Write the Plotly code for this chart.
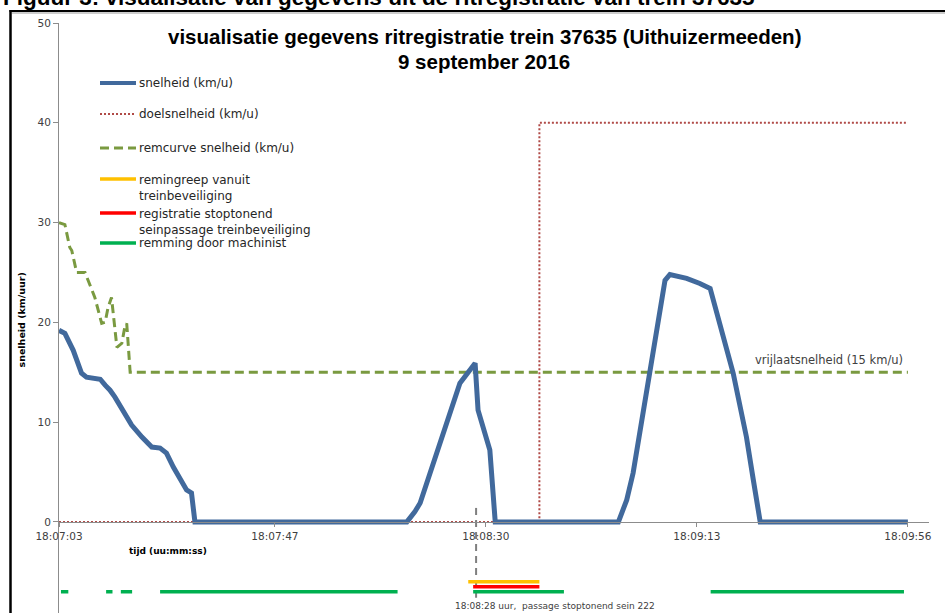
import plotly.graph_objects as go

# ---------------- data (time in seconds after 18:07:03) ----------------
t_speed = [0, 1.2, 2.9, 4.6, 5.6, 8.4, 9.4, 10.4, 11.4, 13.1, 14.8, 16.9, 18.9, 20.6, 21.9,
           23.3, 24.7, 26.0, 27.0, 27.7, 70.9, 72.5, 73.6, 76.3, 78.7, 81.7, 84.8, 85.4,
           87.8, 88.9, 114.0, 115.7, 117.0, 120.5, 122.8, 123.5, 124.5, 127.9, 130.6,
           132.7, 137.4, 140.1, 141.5, 142.9, 173.0]
v_speed = [19.2, 18.9, 17.2, 14.9, 14.5, 14.3, 13.7, 13.2, 12.5, 11.0, 9.7, 8.5, 7.5, 7.4, 6.9,
           5.5, 4.2, 3.2, 2.9, 0, 0, 1.0, 1.9, 5.9, 9.2, 13.9, 15.9, 11.2,
           7.2, 0, 0, 2.2, 4.9, 14.9, 22.2, 24.2, 24.8, 24.4, 23.9,
           23.4, 14.9, 8.5, 4.2, 0, 0]

t_target = [0, 97.9, 97.9, 173.0]
v_target = [0, 0, 40, 40]

t_brakecurve = [0, 1.2, 2.2, 2.6, 3.6, 5.3, 7.3, 8.7, 9.4, 10.0, 10.7, 11.8, 12.8, 13.4,
                13.8, 14.5, 173.0]
v_brakecurve = [30, 29.8, 27.5, 27.2, 25.0, 25.0, 22.5, 19.9, 20.0, 21.5, 22.5, 17.5, 17.9,
                19.5, 19.9, 15.0, 15.0]

# event bars (start, end) in seconds
atb_brake = [(83.4, 97.9)]
stop_signal = [(84.4, 97.9)]
driver_brake = [(0.4, 1.9), (9.6, 10.9), (12.6, 14.9), (20.6, 69.0), (84.4, 102.9),
                (132.8, 172.2)]
atb_level, stop_level, driver_level = -6.0, -6.5, -7.0

passage_time = 85.0  # 18:08:28

tick_s = [0, 44, 87, 130, 173]
tick_labels = ["18:07:03", "18:07:47", "18:08:30", "18:09:13", "18:09:56"]
y_ticks = [0, 10, 20, 30, 40, 50]

# ---------------- colours ----------------
C_BLUE = "#41699C"
C_TARGET = "#B04A47"
C_OLIVE = "#7A9A40"
C_ORANGE = "#FFC000"
C_RED = "#FF0000"
C_GREEN = "#00B050"
C_TEXT = "#404040"
C_AXIS = "#8C8C8C"


def seg_xy(segs, level):
    xs, ys = [], []
    for a, b in segs:
        xs += [a, b, None]
        ys += [level, level, None]
    return xs, ys


fig = go.Figure()
fig.add_trace(go.Scatter(x=t_target, y=v_target, mode="lines",
                         line=dict(color=C_TARGET, width=2, dash="2px,2px"),
                         name="doelsnelheid (km/u)"))
fig.add_trace(go.Scatter(x=t_brakecurve, y=v_brakecurve, mode="lines",
                         line=dict(color=C_OLIVE, width=3, dash="9px,5px"),
                         name="remcurve snelheid (km/u)"))
fig.add_trace(go.Scatter(x=t_speed, y=v_speed, mode="lines",
                         line=dict(color=C_BLUE, width=5),
                         name="snelheid (km/u)"))
fig.add_trace(go.Scatter(x=[passage_time, passage_time], y=[1.4, -7.6], mode="lines",
                         line=dict(color="#7F7F7F", width=2, dash="7px,5px"),
                         name="passage"))
for segs, lvl, col in [(atb_brake, atb_level, C_ORANGE), (stop_signal, stop_level, C_RED),
                       (driver_brake, driver_level, C_GREEN)]:
    xs, ys = seg_xy(segs, lvl)
    fig.add_trace(go.Scatter(x=xs, y=ys, mode="lines", line=dict(color=col, width=3.5)))


# ---------------- layout helpers (pixel -> paper) ----------------
def px2x(px):
    return (px - 59) / 870.0


def py2y(py):
    return (613 - py) / 590.0


shapes = []
annotations = []

# legend (manual)
legend_items = [
    (83, dict(color=C_BLUE, width=4), "snelheid (km/u)", 1),
    (114, dict(color=C_TARGET, width=2, dash="2px,2px"), "doelsnelheid (km/u)", 1),
    (148, dict(color=C_OLIVE, width=3, dash="9px,5px"), "remcurve snelheid (km/u)", 1),
    (179, dict(color=C_ORANGE, width=3.5), "remingreep vanuit<br>treinbeveiliging", 2),
    (213, dict(color=C_RED, width=3.5), "registratie stoptonend<br>seinpassage treinbeveiliging", 2),
    (243, dict(color=C_GREEN, width=3.5), "remming door machinist", 1),
]
for py, ln, txt, nlines in legend_items:
    shapes.append(dict(type="line", xref="paper", yref="paper", x0=px2x(100), x1=px2x(136),
                       y0=py2y(py), y1=py2y(py), line=ln))
    if nlines == 1:
        annotations.append(dict(xref="paper", yref="paper", x=px2x(137), y=py2y(py),
                                xanchor="left", yanchor="middle", text=txt, showarrow=False,
                                font=dict(size=12, color="#262626")))
    else:
        annotations.append(dict(xref="paper", yref="paper", x=px2x(137), y=py2y(py - 8.5),
                                xanchor="left", yanchor="top", text=txt, showarrow=False,
                                align="left", font=dict(size=12, color="#262626")))

# frame
shapes.append(dict(type="line", xref="paper", yref="paper", x0=px2x(10.5), x1=px2x(10.5),
                   y0=py2y(10), y1=py2y(640), line=dict(color="black", width=2.5)))
shapes.append(dict(type="line", xref="paper", yref="paper", x0=px2x(9.5), x1=px2x(960),
                   y0=py2y(11), y1=py2y(11), line=dict(color="black", width=2)))
shapes.append(dict(type="line", xref="paper", yref="paper", x0=px2x(12), x1=px2x(960),
                   y0=py2y(13), y1=py2y(13), line=dict(color="#9A9A9A", width=1)))

# caption (cut off at the top, as in the reference)
annotations.append(dict(xref="paper", yref="paper", x=px2x(1), y=py2y(12.5), xanchor="left",
                        yanchor="bottom", showarrow=False,
                        text="Figuur 3: visualisatie van gegevens uit de ritregistratie van trein 37635",
                        font=dict(family="Liberation Sans, Arial", size=22.5, color="black",
                                  weight="bold")))
# title
annotations.append(dict(xref="paper", yref="paper", x=px2x(484), y=py2y(37), xanchor="center",
                        yanchor="middle", showarrow=False,
                        text="visualisatie gegevens ritregistratie trein 37635 (Uithuizermeeden)",
                        font=dict(family="Liberation Sans, Arial",
                                  size=20.5, color="black", weight="bold")))
annotations.append(dict(xref="paper", yref="paper", x=px2x(484), y=py2y(62), xanchor="center",
                        yanchor="middle", showarrow=False, text="9 september 2016",
                        font=dict(family="Liberation Sans, Arial",
                                  size=20.5, color="black", weight="bold")))
# axis titles
annotations.append(dict(xref="paper", yref="paper", x=px2x(168), y=py2y(551), xanchor="center",
                        yanchor="middle", showarrow=False, text="tijd (uu:mm:ss)",
                        font=dict(size=9, color="black", weight="bold")))
annotations.append(dict(xref="paper", yref="paper", x=px2x(21.5), y=py2y(320), xanchor="center",
                        yanchor="middle", showarrow=False, text="snelheid (km/uur)",
                        textangle=-90, font=dict(size=9.5, color="black", weight="bold")))
# other labels
annotations.append(dict(xref="paper", yref="paper", x=px2x(905), y=py2y(360), xanchor="right",
                        yanchor="middle", showarrow=False, text="vrijlaatsnelheid (15 km/u)",
                        font=dict(size=11.5, color=C_TEXT)))
annotations.append(dict(xref="paper", yref="paper", x=px2x(453), y=py2y(606), xanchor="left",
                        yanchor="middle", showarrow=False,
                        text="18:08:28 uur,\u00a0 passage stoptonend sein 222",
                        font=dict(size=9, color=C_TEXT)))

fig.update_layout(
    width=945, height=613,
    margin=dict(l=59, r=16, t=23, b=0, autoexpand=False),
    paper_bgcolor="white", plot_bgcolor="white",
    showlegend=False,
    font=dict(family="DejaVu Sans", color=C_TEXT),
    shapes=shapes, annotations=annotations,
    xaxis=dict(range=[0, 177.3], showgrid=False, zeroline=False, showline=True,
               linecolor=C_AXIS, linewidth=1, ticks="outside", ticklen=4, tickcolor=C_AXIS,
               tickvals=tick_s, ticktext=tick_labels, tickfont=dict(size=10.5, color=C_TEXT),
               anchor="free", position=9.13 / 59.13, automargin=False),
    yaxis=dict(range=[-9.13, 50], showgrid=False, zeroline=False, showline=True,
               linecolor=C_AXIS, linewidth=1, ticks="outside", ticklen=5, tickcolor=C_AXIS,
               tickvals=y_ticks, tickfont=dict(size=10.5, color=C_TEXT), automargin=False),
)

fig.write_html("out.html", config={"displayModeBar": False},
               post_script="document.body.style.margin='0';document.body.style.overflow='hidden';")
